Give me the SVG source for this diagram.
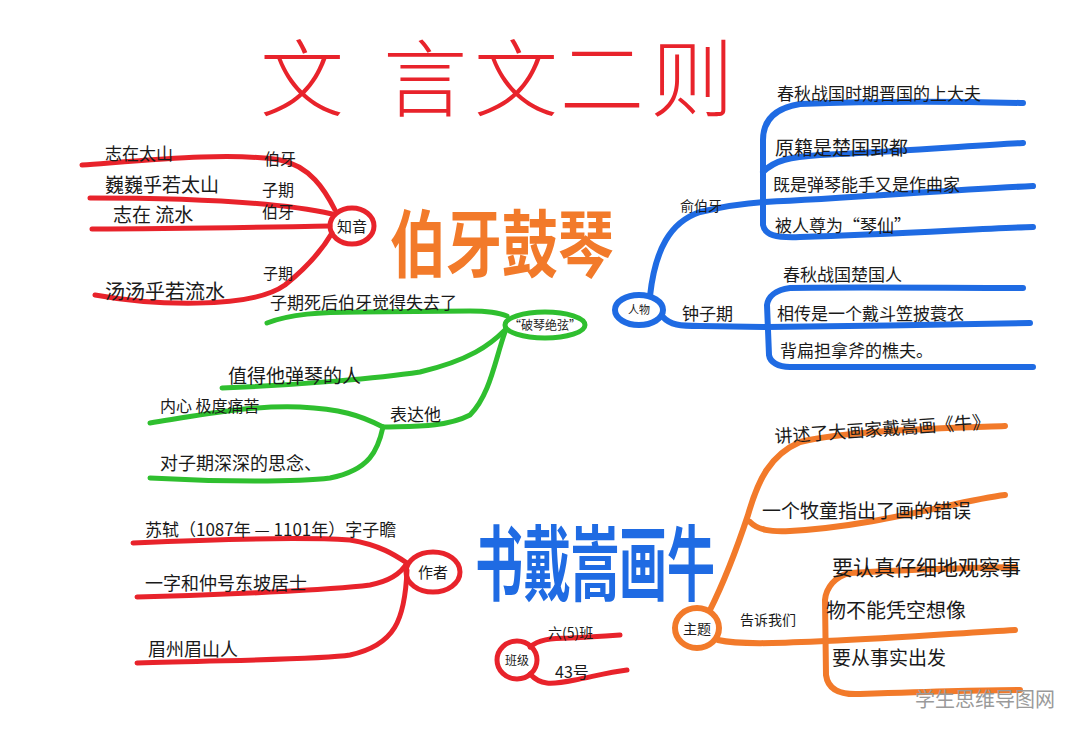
<svg xmlns="http://www.w3.org/2000/svg" width="1080" height="737" viewBox="0 0 1080 737">
<style>
.t{font-family:"Noto Sans CJK SC","Noto Sans",sans-serif;fill:#1a1a1a}
.r{stroke:#e8232b;stroke-width:5;fill:none;stroke-linecap:round;stroke-linejoin:round}
.b{stroke:#1f6be3;stroke-width:6;fill:none;stroke-linecap:round;stroke-linejoin:round}
.g{stroke:#2fbf2f;stroke-width:5;fill:none;stroke-linecap:round;stroke-linejoin:round}
.o{stroke:#f27a2a;stroke-width:6;fill:none;stroke-linecap:round;stroke-linejoin:round}
.big{font-family:"Noto Sans CJK SC","Noto Sans",sans-serif;font-size:84px;font-weight:300;fill:#e8232b;text-anchor:middle}
</style>
<rect width="1080" height="737" fill="#ffffff"/>

<g id="title">
<text class="big" x="302" y="110">文</text>
<text class="big" x="425" y="110">言</text>
<text class="big" x="516" y="110">文</text>
<text class="big" x="602" y="110">二</text>
<text class="big" x="692" y="110">则</text>
</g>

<g id="title-boya">
<text class="t" transform="translate(390,271) scale(1,1.3)" font-size="56" font-weight="700" style="fill:#f27a2a">伯牙鼓琴</text>
</g>

<g id="title-daisong">
<text class="t" transform="translate(475,594) scale(1,1.7)" font-size="48" font-weight="700" style="fill:#1f6be3">书戴嵩画牛</text>
</g>

<g id="connectors">
<!-- 知音 -->
<path class="r" d="M82,165 C150,160 230,152 280,160 C310,166 325,190 335,210"/>
<path class="r" d="M90,198 C170,198 270,200 332,214"/>
<path class="r" d="M92,229 C180,229 270,227 330,226"/>
<path class="r" d="M95,295 C150,305 250,310 285,285 C310,265 325,245 332,233"/>
<!-- 破琴绝弦 -->
<path class="g" d="M267,323 C290,314 320,312 360,312 L470,311 C490,311 500,313 507,316"/>
<path class="g" d="M222,388 C300,385 380,378 420,372 C470,360 490,345 505,330"/>
<path class="g" d="M505,332 C495,360 490,395 470,415 C445,428 410,426 383,427"/>
<path class="g" d="M150,423 C200,415 250,405 300,407 C340,409 360,415 383,427"/>
<path class="g" d="M150,478 C220,482 300,482 330,478 C370,470 378,450 383,427"/>
<!-- 作者 -->
<path class="r" d="M133,543 C200,540 300,537 350,540 C380,545 395,555 407,563"/>
<path class="r" d="M137,597 C220,595 330,590 370,585 C395,580 403,570 407,563"/>
<path class="r" d="M137,663 C220,660 320,660 350,655 C395,645 405,620 407,570"/>
<!-- 人物 -->
<path class="b" d="M650,296 C655,250 670,222 700,212 C730,205 750,203 765,202 C850,198 950,190 1033,186"/>
<path class="b" d="M1023,103 C980,102 900,100 800,104 C775,108 763,120 763,140 L763,225 C765,235 775,238 800,237 C900,234 990,228 1033,227"/>
<path class="b" d="M763,172 C775,160 790,157 820,155 C920,150 980,145 1023,143"/>
<path class="b" d="M663,317 C670,325 680,326 700,326 L767,327 C850,326 950,325 1030,323"/>
<path class="b" d="M1023,288 C950,288 850,287 790,288 C775,290 768,297 767,305 L769,355 C770,362 778,367 790,367 C900,367 980,367 1033,367"/>
<!-- 主题 -->
<path class="o" d="M710,610 C725,580 738,545 748,515 C758,480 770,455 800,442 C850,430 950,428 1005,426"/>
<path class="o" d="M750,522 C758,530 770,532 790,531 C880,526 960,500 1005,495"/>
<path class="o" d="M718,640 C740,645 780,643 825,641 C900,638 960,633 1015,630"/>
<path class="o" d="M1015,567 C960,568 900,570 850,573 C835,576 826,588 825,600 L826,675 C828,690 840,695 860,694 C920,692 980,690 1020,690"/>
<!-- 班级 -->
<path class="r" d="M530,647 C538,640 550,638 570,638 C590,637 605,636 620,635"/>
<path class="r" d="M530,674 C540,685 550,685 575,680 C595,676 610,672 627,670"/>
</g>

<g id="node-zhiyin">
<ellipse class="r" cx="352" cy="226" rx="22" ry="18"/>
<text class="t" x="352" y="232" font-size="15" text-anchor="middle">知音</text>
</g>
<g id="zhiyin-leaves">
<text class="t" x="105" y="160" font-size="17">志在太山</text>
<text class="t" x="105" y="192" font-size="19">巍巍乎若太山</text>
<text class="t" x="113" y="222" font-size="19">志在 流水</text>
<text class="t" x="105" y="299" font-size="20">汤汤乎若流水</text>
<text class="t" x="264" y="165" font-size="16">伯牙</text>
<text class="t" x="262" y="196" font-size="16">子期</text>
<text class="t" x="262" y="218" font-size="16">伯牙</text>
<text class="t" x="263" y="279" font-size="15">子期</text>
</g>

<g id="node-poqin">
<ellipse class="g" cx="545" cy="325" rx="40" ry="13"/>
<text class="t" x="545" y="330" font-size="12" text-anchor="middle">“破琴绝弦”</text>
</g>
<g id="poqin-leaves">
<text class="t" x="270" y="309" font-size="17">子期死后伯牙觉得失去了</text>
<text class="t" x="228" y="383" font-size="19">值得他弹琴的人</text>
<text class="t" x="160" y="412" font-size="16">内心 极度痛苦</text>
<text class="t" x="390" y="421" font-size="17">表达他</text>
<text class="t" x="160" y="470" font-size="18">对子期深深的思念、</text>
</g>

<g id="node-zuozhe">
<ellipse class="r" cx="433" cy="572" rx="27" ry="20"/>
<text class="t" x="433" y="578" font-size="15" text-anchor="middle">作者</text>
</g>
<g id="zuozhe-leaves">
<text class="t" x="145" y="536" font-size="17">苏轼（1087年 — 1101年）字子瞻</text>
<text class="t" x="145" y="590" font-size="18">一字和仲号东坡居士</text>
<text class="t" x="148" y="656" font-size="18">眉州眉山人</text>
</g>

<g id="node-renwu">
<ellipse class="b" cx="639" cy="310" rx="24" ry="15"/>
<text class="t" x="639" y="314" font-size="11" text-anchor="middle">人物</text>
</g>
<g id="renwu-leaves">
<text class="t" x="680" y="211" font-size="14">俞伯牙</text>
<text class="t" x="777" y="100" font-size="17">春秋战国时期晋国的上大夫</text>
<text class="t" x="775" y="155" font-size="19">原籍是楚国郢都</text>
<text class="t" x="773" y="191" font-size="17">既是弹琴能手又是作曲家</text>
<text class="t" x="775" y="232" font-size="17">被人尊为“琴仙”</text>
<text class="t" x="682" y="320" font-size="17">钟子期</text>
<text class="t" x="783" y="281" font-size="17">春秋战国楚国人</text>
<text class="t" x="777" y="320" font-size="17">相传是一个戴斗笠披蓑衣</text>
<text class="t" x="780" y="357" font-size="17">背扁担拿斧的樵夫。</text>
</g>

<g id="node-zhuti">
<ellipse class="o" cx="697" cy="628" rx="22" ry="20"/>
<text class="t" x="697" y="634" font-size="14" text-anchor="middle">主题</text>
</g>
<g id="zhuti-leaves">
<text class="t" transform="translate(775,443) rotate(-4)" font-size="18">讲述了大画家戴嵩画《牛》</text>
<text class="t" x="762" y="518" font-size="19">一个牧童指出了画的错误</text>
<text class="t" x="740" y="625" font-size="14">告诉我们</text>
<text class="t" x="832" y="575" font-size="21">要认真仔细地观察事</text>
<text class="t" x="826" y="618" font-size="20">物不能凭空想像</text>
<text class="t" x="832" y="665" font-size="19">要从事实出发</text>
</g>

<g id="node-banji">
<ellipse class="r" cx="517" cy="660" rx="20" ry="19"/>
<text class="t" x="517" y="665" font-size="12" text-anchor="middle">班级</text>
<text class="t" x="548" y="638" font-size="14">六(5)班</text>
<text class="t" x="555" y="678" font-size="16">43号</text>
</g>

<text class="t" x="915" y="707" font-size="20" style="fill:#9a9a9a">学生思维导图网</text>
</svg>
